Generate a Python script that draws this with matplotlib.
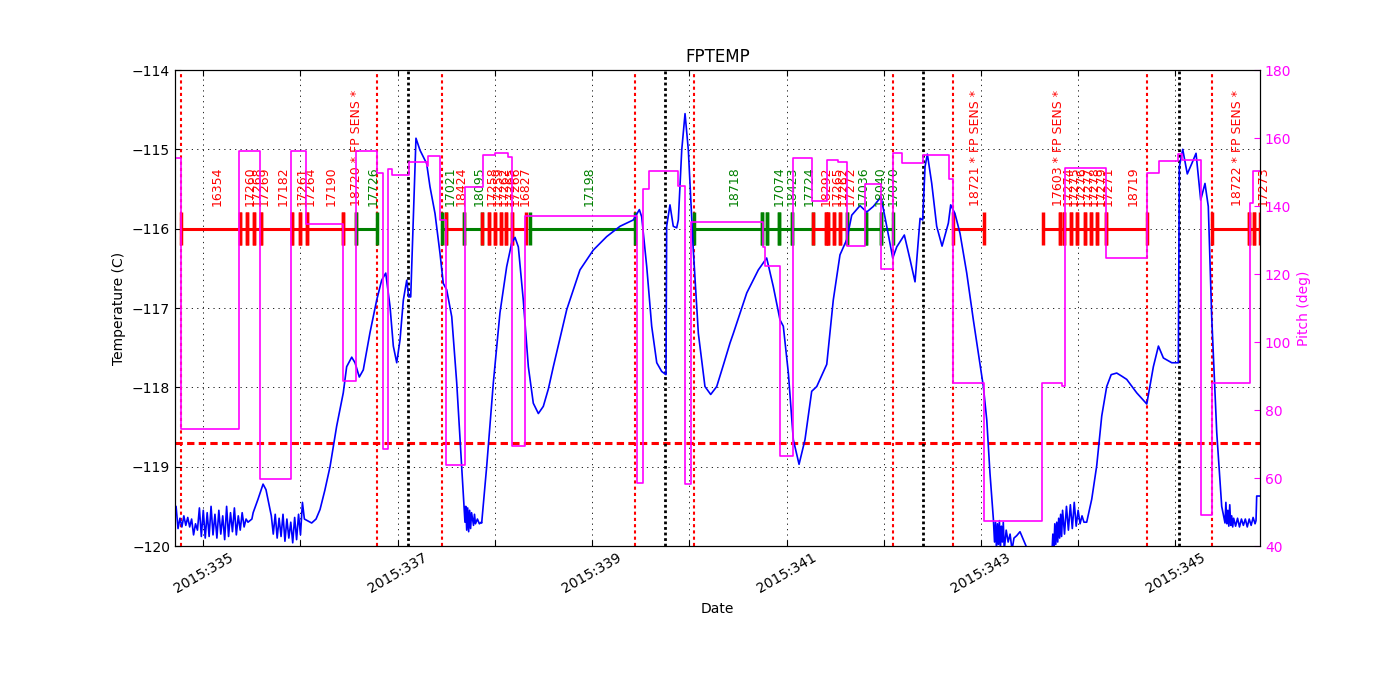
import matplotlib
matplotlib.use('Agg')
import matplotlib.pyplot as plt
import numpy as np

plt.rcParams['font.size'] = 10
plt.rcParams['xtick.direction'] = 'in'
plt.rcParams['ytick.direction'] = 'in'
plt.rcParams['xtick.top'] = True
plt.rcParams['xtick.major.size'] = 4
plt.rcParams['ytick.major.size'] = 4

# FPTEMP trace, day of year 2015 vs deg C
temp_days = [334.70,
             334.72, 334.74, 334.76, 334.78, 334.80, 334.82, 334.84, 334.86, 334.88, 334.90,
             334.92, 334.94, 334.96, 334.98, 335.00, 335.02, 335.04, 335.06, 335.08, 335.10,
             335.12, 335.14, 335.16, 335.18, 335.20, 335.22, 335.24, 335.26, 335.28, 335.30,
             335.32, 335.34, 335.36, 335.38, 335.40, 335.42, 335.44, 335.46, 335.48, 335.50,
             335.513, 335.563, 335.615, 335.645, 335.686,
             335.70, 335.72, 335.74, 335.76, 335.78, 335.80, 335.82, 335.84, 335.86, 335.88,
             335.90, 335.92, 335.94, 335.96, 335.98, 336.00, 336.02, 336.04,
             336.115, 336.160, 336.201, 336.250, 336.304, 336.372, 336.440, 336.475, 336.527,
             336.561, 336.605, 336.646, 336.715, 336.784, 336.835, 336.877, 336.921, 336.955,
             336.990, 337.024, 337.058, 337.093, 337.113, 337.134, 337.188, 337.229, 337.298,
             337.332, 337.384, 337.435, 337.469, 337.504, 337.556, 337.607, 337.658, 337.692,
             337.70, 337.71, 337.72, 337.73, 337.74, 337.75, 337.76, 337.78, 337.79, 337.80,
             337.82, 337.84, 337.86,
             337.864, 337.916, 337.984, 338.052, 338.121, 338.173, 338.207, 338.241, 338.292,
             338.344, 338.395, 338.447, 338.498, 338.550, 338.601, 338.670, 338.739, 338.875,
             339.012, 339.150, 339.287, 339.424, 339.486, 339.510, 339.562, 339.613, 339.665,
             339.716, 339.760, 339.767, 339.801, 339.835, 339.870, 339.887, 339.922, 339.956,
             339.990, 340.041, 340.093, 340.161, 340.220, 340.282, 340.350, 340.419, 340.453,
             340.591, 340.710, 340.796, 340.864, 340.933, 340.967, 341.019, 341.070, 341.129,
             341.190, 341.259, 341.311, 341.414, 341.481, 341.550, 341.619, 341.671, 341.756,
             341.825, 341.893, 341.972, 342.031, 342.093, 342.134, 342.212, 342.271, 342.322,
             342.374, 342.401, 342.425, 342.449, 342.494, 342.545, 342.600, 342.665, 342.689,
             342.733, 342.785, 342.854, 342.922, 343.025, 343.060, 343.093, 343.128,
             343.14, 343.15, 343.16, 343.17, 343.18, 343.19, 343.20, 343.21, 343.22, 343.23,
             343.24, 343.26, 343.28, 343.30, 343.32, 343.34,
             343.368, 343.402, 343.436, 343.471, 343.557, 343.660, 343.732,
             343.74, 343.75, 343.76, 343.77, 343.78, 343.79, 343.80, 343.81, 343.82, 343.83,
             343.84, 343.86, 343.88, 343.90, 343.92, 343.94, 343.96, 343.98, 344.00, 344.02,
             344.04, 344.06,
             344.088, 344.140, 344.191, 344.243, 344.294, 344.340, 344.397, 344.450, 344.500,
             344.603, 344.706, 344.774, 344.826, 344.877, 344.963, 345.031, 345.041, 345.076,
             345.123, 345.169, 345.213, 345.261, 345.305, 345.339, 345.374, 345.426, 345.477,
             345.511,
             345.52, 345.53, 345.54, 345.55, 345.56, 345.57, 345.58, 345.59, 345.60, 345.62,
             345.64, 345.66, 345.68, 345.70, 345.72, 345.74, 345.76, 345.78, 345.80, 345.82,
             345.83, 345.837, 345.871, 345.88]
temp_vals = [-119.60,
             -119.50, -119.78, -119.65, -119.76, -119.62, -119.74, -119.64, -119.76, -119.66, -119.86,
             -119.72, -119.80, -119.52, -119.88, -119.55, -119.90, -119.58, -119.88, -119.50, -119.86,
             -119.60, -119.90, -119.55, -119.85, -119.62, -119.92, -119.50, -119.88, -119.58, -119.82,
             -119.52, -119.86, -119.62, -119.80, -119.58, -119.76, -119.66, -119.70, -119.68, -119.66,
             -119.58, -119.41, -119.22, -119.29, -119.54,
             -119.62, -119.85, -119.60, -119.90, -119.65, -119.88, -119.60, -119.94, -119.66, -119.90,
             -119.70, -119.96, -119.64, -119.92, -119.60, -119.86, -119.45, -119.66,
             -119.71, -119.66, -119.54, -119.30, -119.00, -118.49, -118.07, -117.74, -117.62,
             -117.69, -117.87, -117.78, -117.31, -116.90, -116.65, -116.56, -116.98, -117.48,
             -117.69, -117.40, -116.90, -116.65, -116.86, -116.86, -114.86, -115.01, -115.18,
             -115.47, -115.81, -116.31, -116.69, -116.77, -117.11, -117.94, -118.99, -119.70,
             -119.50, -119.80, -119.52, -119.82, -119.55, -119.78, -119.58, -119.74, -119.60, -119.72,
             -119.66, -119.72, -119.70,
             -119.71, -118.99, -117.94, -117.06, -116.48, -116.18, -116.11, -116.23, -116.90,
             -117.74, -118.20, -118.33, -118.24, -118.02, -117.74, -117.38, -117.02, -116.52,
             -116.27, -116.10, -115.97, -115.89, -115.76, -115.85, -116.48, -117.23, -117.69,
             -117.80, -117.84, -115.97, -115.70, -115.97, -115.99, -115.89, -115.01, -114.55,
             -115.01, -116.27, -117.32, -117.99, -118.09, -117.99, -117.72, -117.44, -117.32,
             -116.81, -116.52, -116.37, -116.73, -117.15, -117.23, -117.82, -118.66, -118.97,
             -118.66, -118.05, -117.99, -117.71, -116.90, -116.33, -116.14, -115.83, -115.71,
             -115.79, -115.72, -115.60, -115.97, -116.37, -116.23, -116.08, -116.39, -116.67,
             -115.87, -115.89, -115.22, -115.06, -115.43, -115.97, -116.22, -115.93, -115.70,
             -115.81, -116.06, -116.56, -117.15, -117.99, -118.41, -119.08, -119.66,
             -119.95, -119.70, -120.05, -119.72, -119.98, -119.68, -120.05, -119.75, -119.95, -119.70,
             -120.05, -119.80, -119.95, -119.85, -120.05, -119.90,
             -119.87, -119.82, -119.92, -120.02, -120.30, -120.20, -120.05,
             -119.85, -120.05, -119.72, -119.98, -119.70, -119.95, -119.65, -119.90, -119.60, -119.88,
             -119.55, -119.85, -119.50, -119.80, -119.48, -119.78, -119.45, -119.75, -119.55, -119.72,
             -119.62, -119.70,
             -119.70, -119.41, -118.99, -118.36, -117.99, -117.84, -117.82, -117.86, -117.90,
             -118.07, -118.21, -117.74, -117.48, -117.63, -117.69, -117.69, -115.22, -115.00,
             -115.31, -115.18, -115.05, -115.64, -115.43, -115.72, -117.11, -118.57, -119.50,
             -119.71,
             -119.45, -119.72, -119.55, -119.75, -119.48, -119.74, -119.62, -119.76, -119.65, -119.75,
             -119.65, -119.76, -119.66, -119.74, -119.66, -119.76, -119.66, -119.74, -119.64, -119.72,
             -119.68, -119.37, -119.37, -119.38]

# spacecraft pitch, value holds until the next change
pitch_days = [334.709, 334.771, 335.370, 335.583, 335.899, 336.053, 336.440, 336.571,
              336.790, 336.846, 336.903, 336.938, 337.119, 337.298, 337.315, 337.435,
              337.497, 337.692, 337.874, 338.001, 338.138, 338.173, 338.310, 339.459,
              339.519, 339.588, 339.887, 339.951, 340.017, 340.753, 340.779, 340.933,
              341.064, 341.259, 341.414, 341.533, 341.626, 341.808, 341.969, 342.099,
              342.193, 342.407, 342.672, 342.716, 343.035, 343.632, 343.831, 343.860,
              344.287, 344.712, 344.832, 345.031, 345.069, 345.266, 345.374, 345.768,
              345.794, 345.88]
pitch_vals = [154.0, 74.3, 156.2, 59.8, 156.2, 134.6, 88.5, 156.2,
              149.8, 68.6, 150.8, 149.0, 152.8, 151.8, 154.7, 136.0,
              63.7, 145.7, 154.9, 155.5, 154.5, 69.4, 137.0, 58.6,
              145.0, 150.3, 146.0, 58.1, 135.3, 128.0, 122.4, 66.5,
              154.0, 141.5, 153.5, 153.0, 128.2, 146.6, 121.4, 155.7,
              152.6, 154.9, 147.9, 88.0, 47.4, 88.0, 87.0, 151.3,
              124.6, 149.8, 153.2, 155.2, 153.4, 49.0, 88.0, 141.0,
              150.3, 150.3]

# scheduled observations
obs_start = [334.771, 335.378, 335.453, 335.522, 335.591, 335.909, 335.995, 336.064,
             336.440, 336.571, 337.453, 337.494, 337.685, 337.864, 337.942, 338.001,
             338.060, 338.114, 338.173, 338.361, 340.048, 340.745, 340.797, 340.926,
             341.053, 341.270, 341.406, 341.424, 341.492, 341.550, 341.619, 341.815,
             341.969, 342.716, 343.642, 343.814, 343.855, 343.927, 343.992, 344.071,
             344.133, 344.198, 344.288, 345.377, 345.761, 345.810]
obs_stop = [335.378, 335.453, 335.522, 335.591, 335.909, 335.995, 336.064, 336.440,
            336.571, 336.784, 337.494, 337.685, 337.864, 337.942, 338.001, 338.060,
            338.114, 338.173, 338.320, 339.441, 340.745, 340.797, 340.926, 341.053,
            341.270, 341.406, 341.424, 341.492, 341.550, 341.619, 341.815, 341.969,
            342.099, 343.035, 343.814, 343.855, 343.927, 343.992, 344.071, 344.133,
            344.198, 344.288, 344.712, 345.761, 345.810, 345.87]
obs_ids = ['16354', '17260', '17268', '17269', '17182', '17261', '17264', '17190',
           '18720 * FP SENS *', '17726', '17021', '18424', '18095', '17258', '17259', '17262',
           '17265', '17266', '16827', '17198', '18718', '', '17074', '18423',
           '17724', '18292', '', '17265', '17262', '17272', '17036', '18040',
           '17070', '18721 * FP SENS *', '17603 * FP SENS *', '17274', '17275', '17276', '17277', '17278',
           '17279', '17271', '18719', '18722 * FP SENS *', '', '17273']
obs_colors = ['r', 'r', 'r', 'r', 'r', 'r', 'r', 'r',
              'r', 'g', 'g', 'r', 'g', 'r', 'r', 'r',
              'r', 'r', 'r', 'g', 'g', 'g', 'g', 'g',
              'g', 'r', 'r', 'r', 'r', 'r', 'g', 'g',
              'g', 'r', 'r', 'r', 'r', 'r', 'r', 'r',
              'r', 'r', 'r', 'r', 'r', 'r']

rad_zone_edges = [334.771, 336.784, 337.453, 339.441, 340.048, 342.099, 342.716,
                  344.712, 345.377]
perigee_days = [337.106, 339.747, 342.401, 345.038]
temp_limit = -118.7
obs_level = -116.0
pitch_color = '#ff00ff'

fig = plt.figure(figsize=(14, 7), dpi=100)
ax1 = fig.add_axes([0.125, 0.22, 0.775, 0.68])

ax1.plot(temp_days, temp_vals, color='b', lw=1.2, zorder=3)
ax1.axhline(temp_limit, color='r', lw=2.2, dashes=(2.4, 1.4), zorder=2)

for d in rad_zone_edges:
    ax1.axvline(d, color='r', lw=1.5, dashes=(1.5, 1.5), zorder=2)
for d in perigee_days:
    ax1.axvline(d, color='k', lw=2.0, dashes=(1, 1), zorder=2)

for i in range(len(obs_start)):
    c = obs_colors[i]
    ax1.plot([obs_start[i], obs_stop[i]], [obs_level, obs_level], color=c, lw=2.2, zorder=2.5)
    ax1.vlines([obs_start[i], obs_stop[i]], obs_level - 0.21, obs_level + 0.21, color=c, lw=2.5, zorder=2.5)
    if obs_ids[i]:
        mid = 0.5 * (obs_start[i] + obs_stop[i])
        ax1.text(mid, -115.72, obs_ids[i], color=c, rotation=90, fontsize=9,
                 ha='left', va='bottom')

ax1.set_xlim(334.709, 345.871)
ax1.set_ylim(-120, -114)
ax1.set_yticks(np.arange(-120, -113, 1))
ax1.set_xticks(np.arange(335, 346))
ax1.set_xticklabels(['2015:%d' % d if d % 2 == 1 else '' for d in range(335, 346)],
                    rotation=30, ha='center')
ax1.grid(True, color='k', lw=0.6, ls=(0, (1.5, 5)))
ax1.set_xlabel('Date')
ax1.set_ylabel('Temperature (C)')
ax1.set_title('FPTEMP', fontsize=12)

ax2 = ax1.twinx()
ax2.plot(pitch_days, pitch_vals, color=pitch_color, lw=1.2, drawstyle='steps-post')
ax2.set_ylim(40, 180)
ax2.set_yticks(np.arange(40, 181, 20))
ax2.set_ylabel('Pitch (deg)', color=pitch_color)
ax2.tick_params(axis='y', colors=pitch_color, direction='in')
ax2.set_xlim(334.709, 345.871)

plt.savefig('out.png', dpi=100)
